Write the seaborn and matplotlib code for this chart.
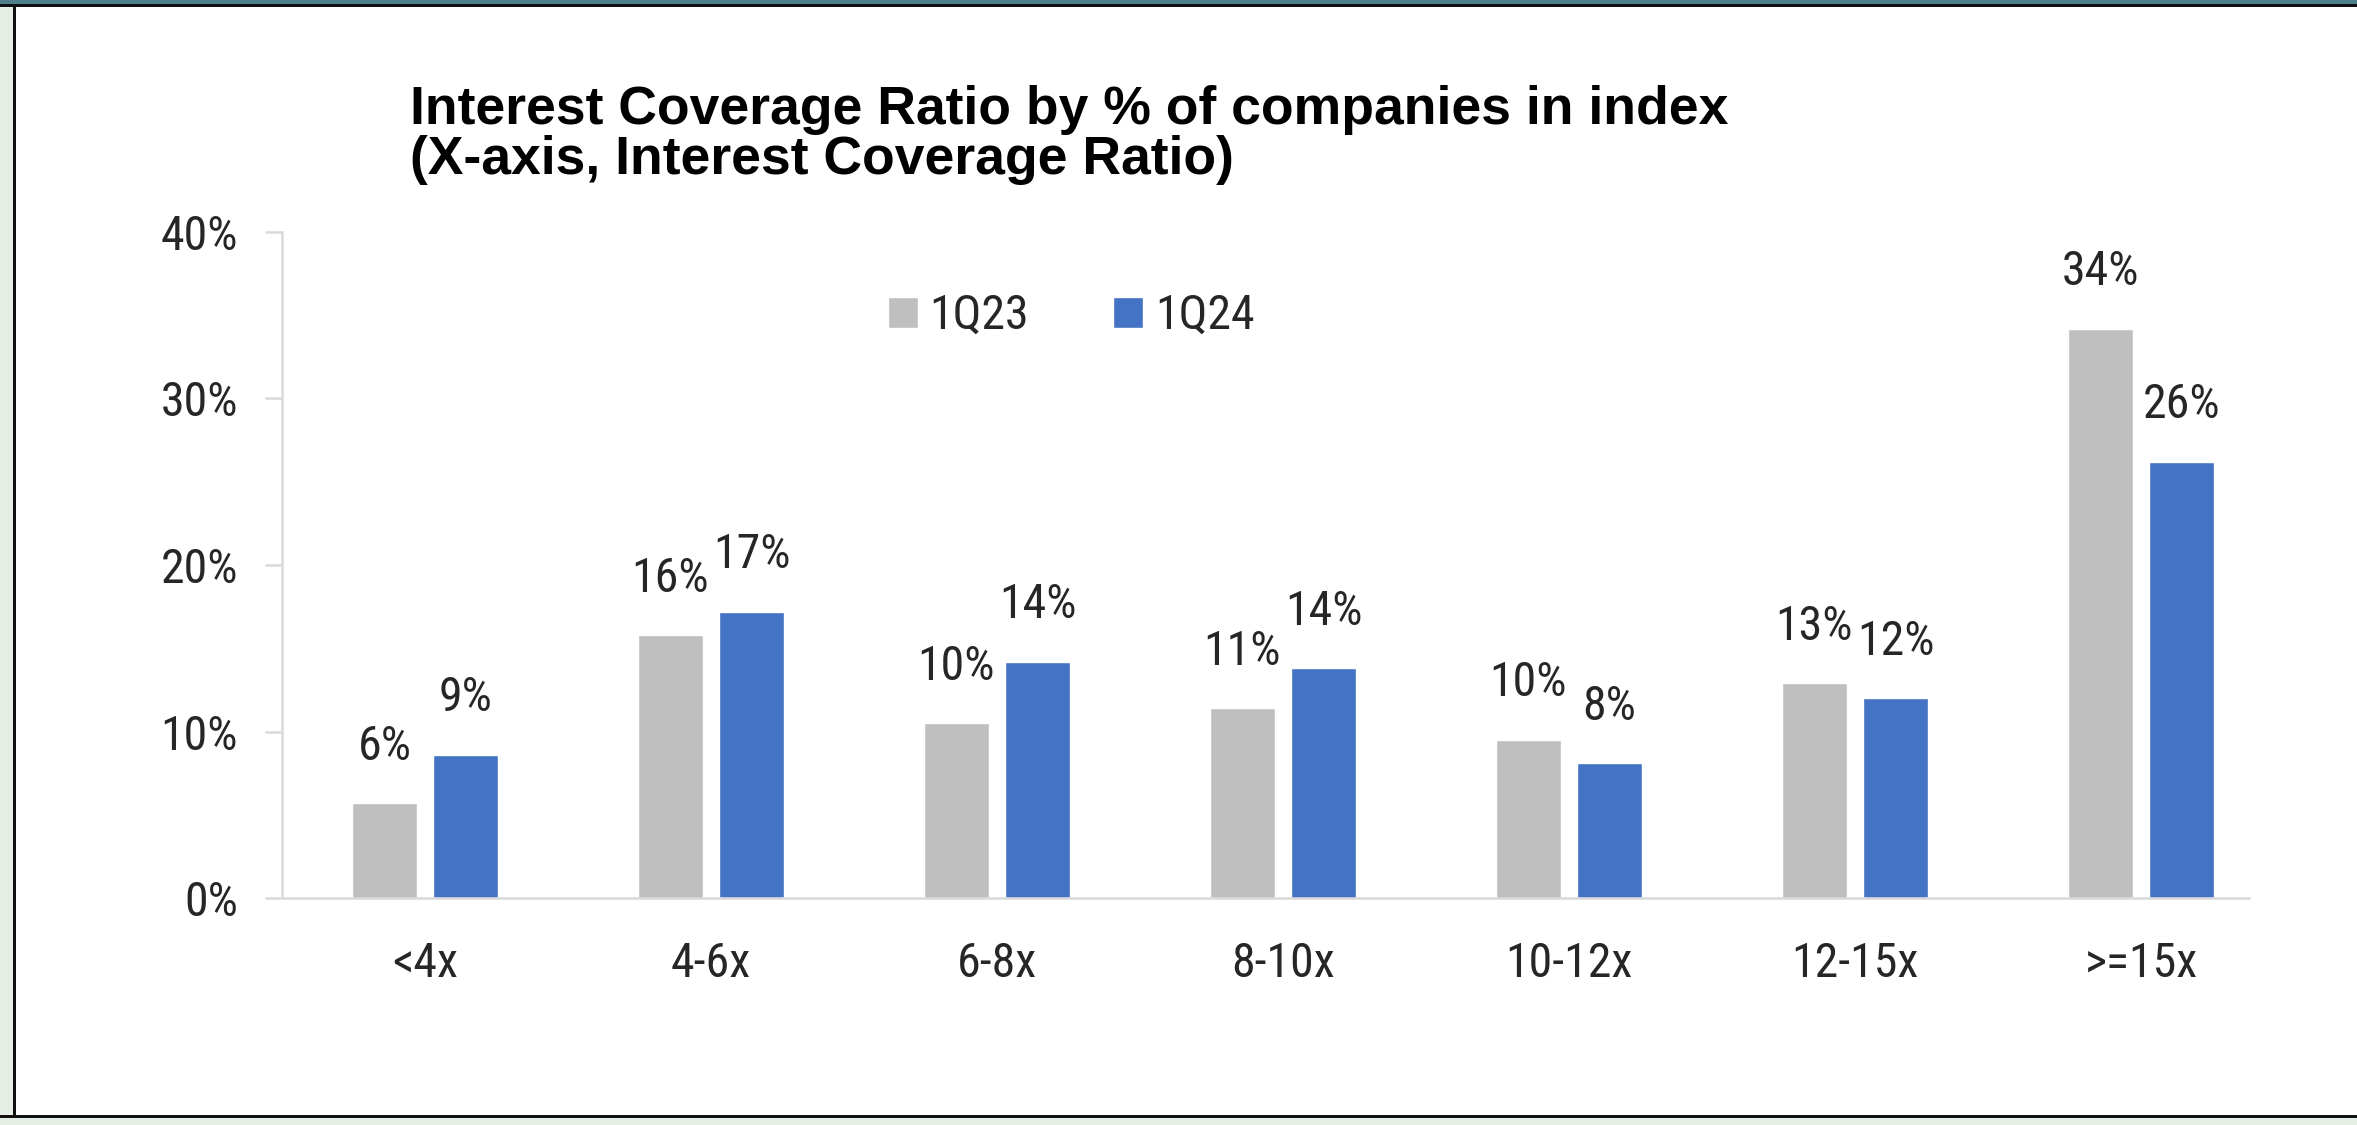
import matplotlib
matplotlib.use("Agg")
import matplotlib.pyplot as plt
import matplotlib.ticker as mticker
from matplotlib import font_manager
from matplotlib.patches import Rectangle
import pandas as pd
import seaborn as sns

# Interest coverage buckets and share of index companies (%) in each
categories = ["<4x", "4-6x", "6-8x", "8-10x", "10-12x", "12-15x", ">=15x"]
share_1q23 = [5.7, 15.8, 10.5, 11.4, 9.5, 12.9, 34.2]
share_1q24 = [8.6, 17.2, 14.2, 13.8, 8.1, 12.0, 26.2]
quarters = ["1Q23", "1Q24"]
y_ticks = [0, 10, 20, 30, 40]

title_text = ("Interest Coverage Ratio by % of companies in index\n"
              "(X-axis, Interest Coverage Ratio)")

GRAY = "#BFBFBF"
BLUE = "#4472C4"
AXIS_GRAY = "#D9D9D9"
TEXT_DARK = "#262626"

df = pd.DataFrame({
    "ratio": categories * 2,
    "share": share_1q23 + share_1q24,
    "quarter": [quarters[0]] * len(categories) + [quarters[1]] * len(categories),
})

sns.set_theme(style="white")

# prefer a condensed face for the numbers when one is available
installed = {f.name for f in font_manager.fontManager.ttflist}
narrow_name = next((n for n in ("Liberation Sans Narrow", "Arial Narrow",
                                "Roboto Condensed", "Open Sans Condensed")
                    if n in installed), None)
if narrow_name:
    num_font = [narrow_name, "DejaVu Sans"]
    label_size = 34.5
else:
    num_font = ["Liberation Sans", "DejaVu Sans"]
    label_size = 28.5
plt.rcParams["font.family"] = num_font

W, H = 2357, 1125
fig = plt.figure(figsize=(W / 100, H / 100), dpi=100)
fig.patch.set_facecolor("white")

# axes placed in pixel terms of the canvas
ax_left, ax_right, ax_bottom, ax_top = 282, 2249, 898, 232
ax = fig.add_axes([ax_left / W, 1 - ax_bottom / H,
                   (ax_right - ax_left) / W, (ax_bottom - ax_top) / H])

sns.barplot(data=df, x="ratio", y="share", hue="quarter", order=categories,
            hue_order=quarters, palette=[GRAY, BLUE], saturation=1,
            width=0.567, gap=0.2, ax=ax)

slot_px = 286
ax.set_xlim(-0.5, -0.5 + (ax_right - ax_left) / slot_px)
ax.set_ylim(0, 40)
ax.set_yticks(y_ticks)
ax.yaxis.set_major_formatter(mticker.FuncFormatter(lambda v, _: f"{v:.0f}%"))
ax.set_xlabel("")
ax.set_ylabel("")

for cont in ax.containers:
    ax.bar_label(cont, fmt=lambda v: f"{v:.0f}%", padding=24,
                 fontsize=label_size, color=TEXT_DARK, family=num_font)

for side in ("top", "right"):
    ax.spines[side].set_visible(False)
for side in ("left", "bottom"):
    ax.spines[side].set_color(AXIS_GRAY)
    ax.spines[side].set_linewidth(1.8)

ax.tick_params(axis="y", which="major", length=12, width=1.8, color=AXIS_GRAY,
               pad=19.5, labelsize=label_size, labelcolor=TEXT_DARK, left=True)
ax.tick_params(axis="x", which="major", length=0, pad=31,
               labelsize=label_size, labelcolor=TEXT_DARK)
for lab in ax.get_xticklabels() + ax.get_yticklabels():
    lab.set_family(num_font)

# legend in a single row above the bars
sns.move_legend(ax, "center left", bbox_to_anchor=(888 / W, 1 - 316 / H),
                bbox_transform=fig.transFigure, ncol=2, frameon=False,
                title=None, fontsize=label_size, handlelength=0.62,
                handleheight=0.62, handletextpad=0.25, columnspacing=1.75,
                borderpad=0, borderaxespad=0)
for txt in ax.get_legend().get_texts():
    txt.set_color(TEXT_DARK)
    txt.set_family(num_font)

fig.text(410 / W, 1 - 135 / H, title_text, ha="left", va="center",
         fontsize=38.5, fontweight="bold", color="black",
         family=["Liberation Sans", "DejaVu Sans"], linespacing=0.98)

# surrounding frame: teal band on top, pale green margins, black rules
def px_rect(x0, y0, x1, y1, color):
    fig.patches.append(Rectangle((x0 / W, 1 - y1 / H), (x1 - x0) / W,
                                 (y1 - y0) / H, transform=fig.transFigure,
                                 facecolor=color, edgecolor="none", zorder=0))

px_rect(0, 0, W, 4, "#4F7F8B")
px_rect(0, 4, W, 7, "#111111")
px_rect(0, 7, 13, H, "#E5EFE5")
px_rect(13, 7, 16, 1118, "#111111")
px_rect(0, 1115, W, 1118, "#111111")
px_rect(0, 1118, W, H, "#E5EFE5")

fig.savefig("out.png", dpi=100, facecolor=fig.get_facecolor())
